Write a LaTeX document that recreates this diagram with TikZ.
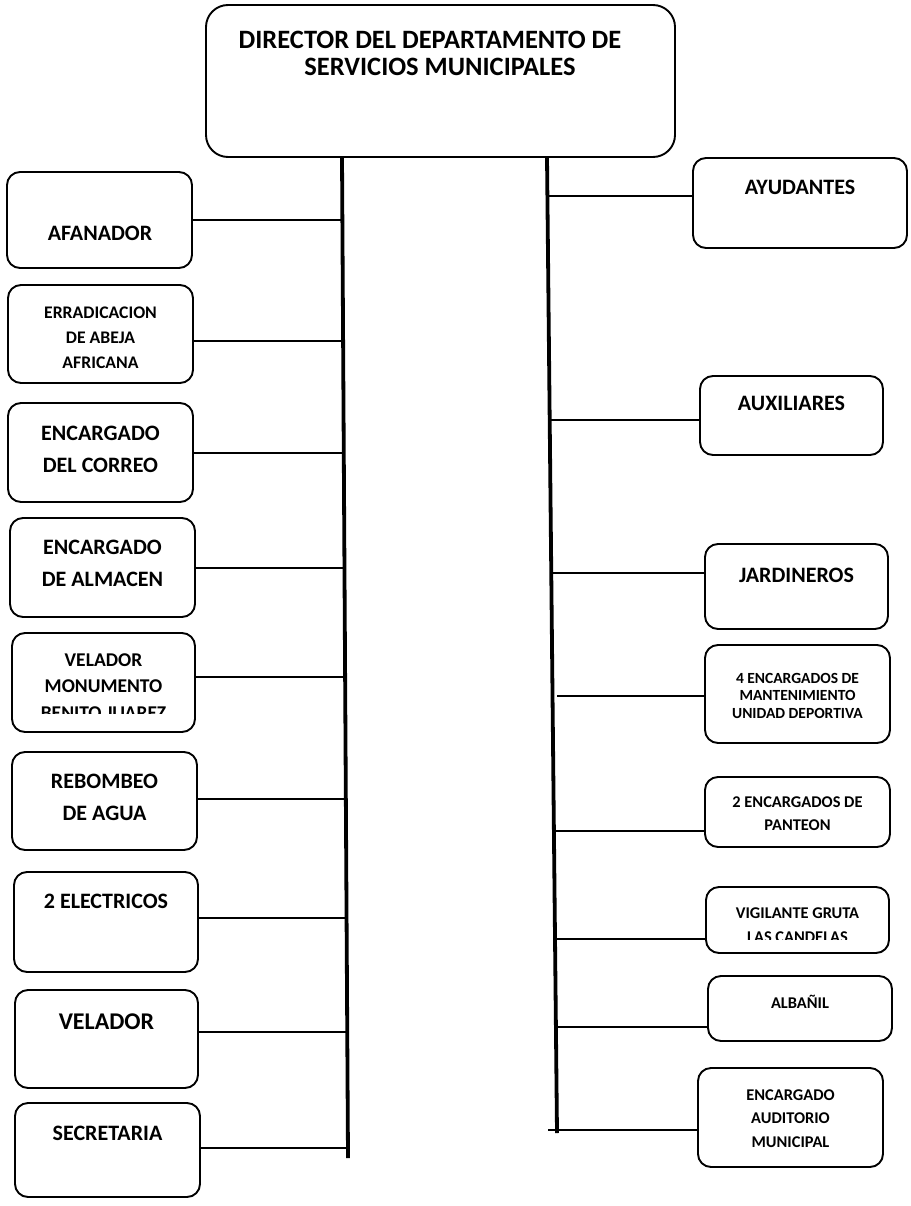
\documentclass[tikz,border=0pt]{standalone}
\usepackage{fontspec}
\setmainfont{Carlito}
\begin{document}
\begin{tikzpicture}[x=1pt,y=-1pt,
  box/.style={draw, line width=1.9pt, rounded corners=13pt, inner sep=0pt},
  conn/.style={line width=2.6pt},
  trunk/.style={line width=3.8pt},
  lbl/.style={align=center, inner sep=0pt},
  fbig/.style={font=\fontsize{22}{32}\selectfont\bfseries},
  fsml/.style={font=\fontsize{16.4}{23.5}\selectfont\bfseries}]
\useasboundingbox (0,0) rectangle (910,1206);

% director
\node[box, rounded corners=22pt, minimum width=469pt, minimum height=152pt] (dir) at (440.5,81) {};
\node[lbl, font=\fontsize{26.5}{27}\selectfont\bfseries] (dirt) at (440,53.5) {DIRECTOR DEL DEPARTAMENTO DE\hspace*{20pt}\\SERVICIOS MUNICIPALES};

% trunks
\coordinate (LT) at (342,157); \coordinate (LB) at (348,1158);
\coordinate (RT) at (547,157); \coordinate (RB) at (557,1133);
\draw[trunk] (LT) -- (LB);
\draw[trunk] (RT) -- (RB);

% left boxes
\node[box, minimum width=185pt, minimum height=96pt] (afa) at (99.5,220) {};
\node[lbl, fbig] (afat) at (100,233) {AFANADOR};

\node[box, minimum width=185pt, minimum height=98pt] (err) at (100.5,334) {};
\node[lbl, font=\fontsize{17.7}{25}\selectfont\bfseries] (errt) at (100.5,338) {ERRADICACION\\DE ABEJA\\AFRICANA};

\node[box, minimum width=185pt, minimum height=99pt] (cor) at (100.5,452.5) {};
\node[lbl, fbig] (cort) at (100.5,449) {ENCARGADO\\DEL CORREO};

\node[box, minimum width=185pt, minimum height=99pt] (alm) at (102.5,567.5) {};
\node[lbl, fbig] (almt) at (102.5,563) {ENCARGADO\\DE ALMACEN};

\node[box, minimum width=183pt, minimum height=99pt] (vmo) at (103.5,682.5) {};
\begin{scope}
\clip (14,635) rectangle (193,713.5);
\node[lbl, font=\fontsize{19.5}{26.5}\selectfont\bfseries] (vmot) at (103.5,686.5) {VELADOR\\MONUMENTO\\BENITO JUAREZ};
\end{scope}

\node[box, minimum width=185pt, minimum height=98pt] (reb) at (104.5,801) {};
\node[lbl, fbig] (rebt) at (104.5,797) {REBOMBEO\\DE AGUA};

\node[box, minimum width=184pt, minimum height=100pt] (ele) at (106,922) {};
\node[lbl, fbig] (elet) at (106,901) {2 ELECTRICOS};

\node[box, minimum width=183pt, minimum height=98pt] (vel) at (106.5,1039) {};
\node[lbl, font=\fontsize{24}{30}\selectfont\bfseries] (velt) at (106.5,1022) {VELADOR};

\node[box, minimum width=185pt, minimum height=94pt] (sec) at (107.5,1150) {};
\node[lbl, fbig] (sect) at (107.5,1133) {SECRETARIA};

% right boxes
\node[box, minimum width=214pt, minimum height=90pt] (ayu) at (800,203) {};
\node[lbl, fbig] (ayut) at (800,187) {AYUDANTES};

\node[box, minimum width=183pt, minimum height=79pt] (aux) at (791.5,415.5) {};
\node[lbl, fbig] (auxt) at (791.5,403) {AUXILIARES};

\node[box, minimum width=183pt, minimum height=85pt] (jar) at (796.5,586.5) {};
\node[lbl, fbig] (jart) at (796.5,575) {JARDINEROS};

\node[box, minimum width=185pt, minimum height=98pt] (man) at (797.5,694) {};
\node[lbl, font=\fontsize{15.5}{17.5}\selectfont\bfseries] (mant) at (797.5,695.5) {4 ENCARGADOS DE\\MANTENIMIENTO\\UNIDAD DEPORTIVA};

\node[box, minimum width=185pt, minimum height=70pt] (pan) at (797.5,812) {};
\node[lbl, fsml] (pant) at (797.5,813.5) {2 ENCARGADOS DE\\PANTEON};

\node[box, minimum width=183pt, minimum height=66pt] (vig) at (797.5,920) {};
\begin{scope}
\clip (708,889) rectangle (887,939);
\node[lbl, font=\fontsize{16.4}{24}\selectfont\bfseries] (vigt) at (797.5,925) {VIGILANTE GRUTA\\LAS CANDELAS};
\end{scope}

\node[box, minimum width=184pt, minimum height=65pt] (alb) at (800,1008.5) {};
\node[lbl, fsml] (albt) at (800,1002) {ALBAÑIL};

\node[box, minimum width=185pt, minimum height=99pt] (aud) at (790.5,1117.5) {};
\node[lbl, fsml] (audt) at (790.5,1118.5) {ENCARGADO\\AUDITORIO\\MUNICIPAL};

% junctions on left trunk
\coordinate (jL1) at (342.4,220);
\coordinate (jL2) at (343.1,341);
\coordinate (jL3) at (343.8,453);
\coordinate (jL4) at (344.5,568);
\coordinate (jL5) at (345.1,677);
\coordinate (jL6) at (345.8,799);
\coordinate (jL7) at (346.6,918);
\coordinate (jL8) at (347.2,1032);
\coordinate (jL9) at (347.9,1148);
\draw[conn] (afa.east |- jL1) -- (jL1);
\draw[conn] (err.east |- jL2) -- (jL2);
\draw[conn] (cor.east |- jL3) -- (jL3);
\draw[conn] (alm.east |- jL4) -- (jL4);
\draw[conn] (vmo.east |- jL5) -- (jL5);
\draw[conn] (reb.east |- jL6) -- (jL6);
\draw[conn] (ele.east |- jL7) -- (jL7);
\draw[conn] (vel.east |- jL8) -- (jL8);
\draw[conn] (sec.east |- jL9) -- (jL9);

% junctions on right trunk
\coordinate (jR1) at (547.4,196);
\coordinate (jR2) at (549.7,420);
\coordinate (jR3) at (551.3,573);
\coordinate (jR4) at (557,696);
\coordinate (jR5) at (553.9,831);
\coordinate (jR6) at (555,939);
\coordinate (jR7) at (555.9,1027);
\coordinate (jR8) at (548,1130);
\draw[conn] (jR1) -- (ayu.west |- jR1);
\draw[conn] (jR2) -- (aux.west |- jR2);
\draw[conn] (jR3) -- (jar.west |- jR3);
\draw[conn] (jR4) -- (man.west |- jR4);
\draw[conn] (jR5) -- (pan.west |- jR5);
\draw[conn] (jR6) -- (vig.west |- jR6);
\draw[conn] (jR7) -- (alb.west |- jR7);
\draw[conn] (jR8) -- (aud.west |- jR8);
\end{tikzpicture}
\end{document}
